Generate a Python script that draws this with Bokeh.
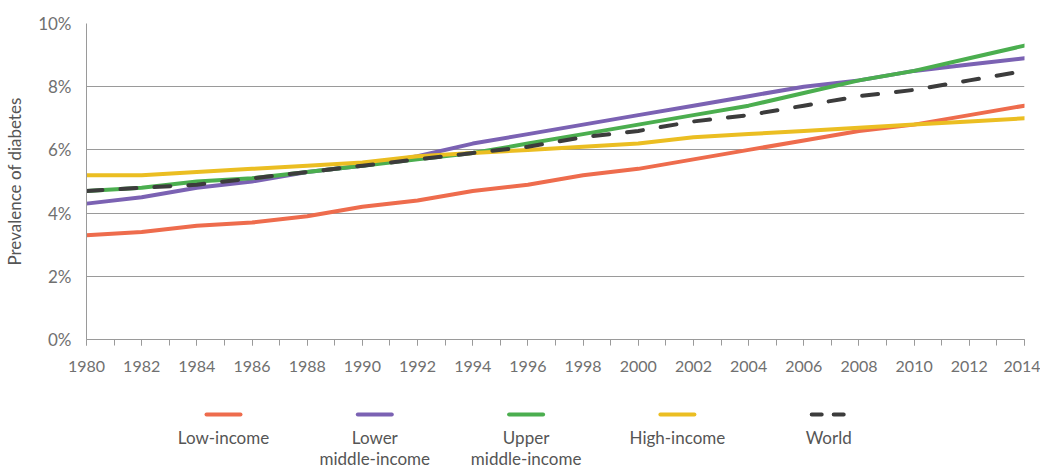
from bokeh.plotting import figure
from bokeh.layouts import column
from bokeh.models import Range1d, SingleIntervalTicker, NumeralTickFormatter
from bokeh.core.properties import value
from bokeh.embed import file_html
from bokeh.resources import INLINE

years = [1980, 1982, 1984, 1986, 1988, 1990, 1992, 1994, 1996, 1998, 2000, 2002, 2004, 2006, 2008, 2010, 2012, 2014]
low_income = [3.3, 3.4, 3.6, 3.7, 3.9, 4.2, 4.4, 4.7, 4.9, 5.2, 5.4, 5.7, 6.0, 6.3, 6.6, 6.8, 7.1, 7.4]
lower_middle = [4.3, 4.5, 4.8, 5.0, 5.3, 5.5, 5.8, 6.2, 6.5, 6.8, 7.1, 7.4, 7.7, 8.0, 8.2, 8.5, 8.7, 8.9]
upper_middle = [4.7, 4.8, 5.0, 5.1, 5.3, 5.5, 5.7, 5.9, 6.2, 6.5, 6.8, 7.1, 7.4, 7.8, 8.2, 8.5, 8.9, 9.3]
high_income = [5.2, 5.2, 5.3, 5.4, 5.5, 5.6, 5.8, 5.9, 6.0, 6.1, 6.2, 6.4, 6.5, 6.6, 6.7, 6.8, 6.9, 7.0]
world = [4.7, 4.8, 4.9, 5.1, 5.3, 5.5, 5.7, 5.9, 6.1, 6.4, 6.6, 6.9, 7.1, 7.4, 7.7, 7.9, 8.2, 8.5]

series_names = ["Low-income", "Lower\nmiddle-income", "Upper\nmiddle-income", "High-income", "World"]
series_values = [low_income, lower_middle, upper_middle, high_income, world]
series_colors = ["#EE6C4D", "#7B62B3", "#4BAE4F", "#EBBE22", "#3C3C3C"]
series_dash = ["solid", "solid", "solid", "solid", "16 18"]
legend_dash = ["solid", "solid", "solid", "solid", "10 12"]

FONT = "Lato"
TEXT_GREY = "#707070"
LINE_GREY = "#9A9A9A"

p = figure(width=1040, height=380, output_backend="svg", toolbar_location=None,
           x_range=Range1d(1980, 2014), y_range=Range1d(0, 10),
           min_border_left=86, min_border_right=16, min_border_top=23, min_border_bottom=41)
p.outline_line_color = None
p.background_fill_color = "white"
p.border_fill_color = "white"

# grid
p.xgrid.grid_line_color = None
p.ygrid.grid_line_color = LINE_GREY
p.ygrid.grid_line_width = 1
p.ygrid.ticker = SingleIntervalTicker(interval=2)

# y axis
p.yaxis.ticker = SingleIntervalTicker(interval=2)
p.yaxis.formatter = NumeralTickFormatter(format="0")
p.yaxis.major_label_overrides = {v: f"{v}%" for v in range(0, 11, 2)}
p.yaxis.major_tick_out = 0
p.yaxis.major_tick_in = 0
p.yaxis.minor_tick_out = 0
p.yaxis.minor_tick_in = 0
p.yaxis.axis_line_color = LINE_GREY
p.yaxis.axis_line_width = 1
p.yaxis.major_label_text_font = FONT
p.yaxis.major_label_text_font_size = "17px"
p.yaxis.major_label_text_color = TEXT_GREY
p.yaxis.major_label_standoff = 15
p.yaxis.axis_label = "Prevalence of diabetes"
p.yaxis.axis_label_text_font = FONT
p.yaxis.axis_label_text_font_size = "17px"
p.yaxis.axis_label_text_font_style = "normal"
p.yaxis.axis_label_text_color = "#555555"
p.yaxis.axis_label_standoff = 10

# x axis
p.xaxis.ticker = SingleIntervalTicker(interval=2, num_minor_ticks=2)
p.xaxis.major_tick_out = 6
p.xaxis.major_tick_in = 0
p.xaxis.minor_tick_out = 6
p.xaxis.minor_tick_in = 0
p.xaxis.major_tick_line_color = LINE_GREY
p.xaxis.minor_tick_line_color = LINE_GREY
p.xaxis.axis_line_color = LINE_GREY
p.xaxis.major_label_text_font = FONT
p.xaxis.major_label_text_font_size = "16px"
p.xaxis.major_label_text_color = TEXT_GREY
p.xaxis.major_label_standoff = 15

for vals, col, dash in zip(series_values, series_colors, series_dash):
    p.line(years, vals, line_color=col, line_width=4,
           line_dash=dash, line_cap="round", line_join="round")

# legend figure (its frame is aligned with the main frame: 86..1024 px)
leg = figure(width=1040, height=90, output_backend="svg", toolbar_location=None,
             x_range=Range1d(86, 1024), y_range=Range1d(90, 0),
             min_border_left=86, min_border_right=16, min_border_top=0, min_border_bottom=0)
leg.outline_line_color = None
leg.xaxis.visible = False
leg.yaxis.visible = False
leg.grid.visible = False

centers = [223 + 151.3 * i for i in range(len(series_names))]
for cx, col, dash in zip(centers, series_colors, legend_dash):
    leg.line([cx - 17, cx + 17], [34, 34], line_color=col, line_width=4, line_dash=dash, line_cap="round")

leg.text(x=centers, y=[46] * len(centers), text=series_names,
         text_font=value(FONT), text_font_size="17px", text_color="#555555",
         text_align="center", text_baseline="top", text_line_height=1.0)

layout = column(p, leg, spacing=0)
open("out.html", "w").write(file_html(layout, INLINE))
